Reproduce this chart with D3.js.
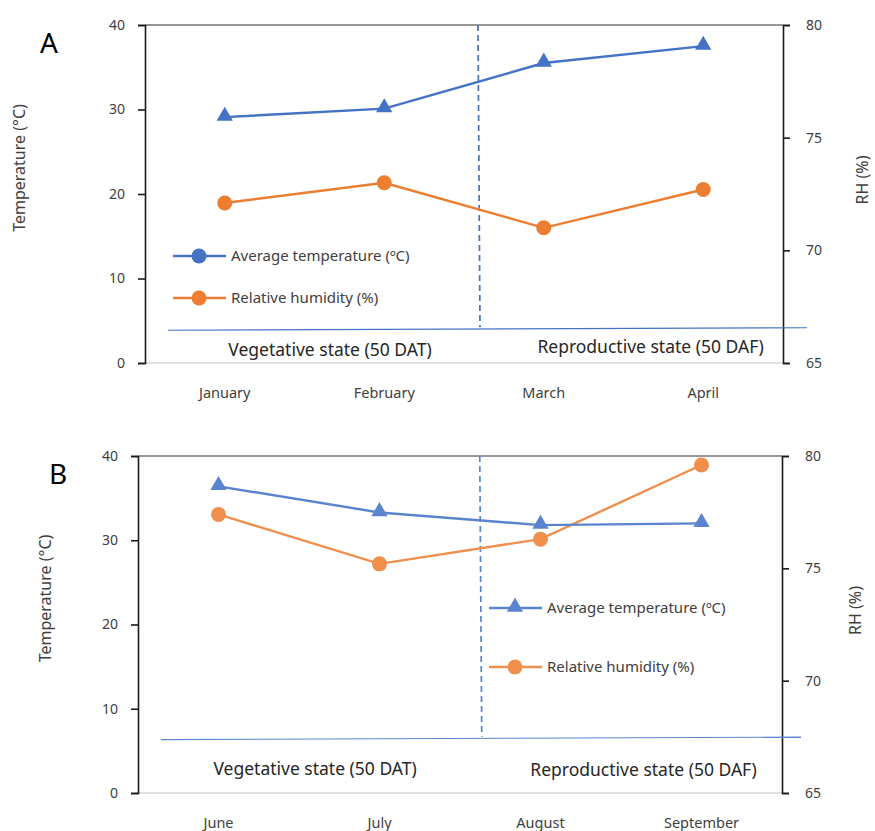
<!DOCTYPE html>
<html lang="en">
	<head>
		<meta charset="utf-8">
		<title>temperature and RH</title>
		<script type="text/javascript" src="https://cdn.jsdelivr.net/npm/d3@7"></script>
		<style>
			body{
				margin:0;
				background-color:white;
			}
			text{
				font-family:"Noto Sans", "DejaVu Sans", sans-serif;
			}
		</style>
	</head>
	<body>
		<div id="chart"></div>

		<script type="text/javascript">

			// panel A
			var monthsA = ["January","February","March","April"]
			var tempA = [29.1, 30.1, 35.5, 37.5]
			var rhA = [72.1, 73.0, 71.0, 72.7]

			// panel B
			var monthsB = ["June","July","August","September"]
			var tempB = [36.4, 33.3, 31.8, 32.0]
			var rhB = [77.4, 75.2, 76.3, 79.6]

			var tempTicks = [0,10,20,30,40]
			var rhTicks = [65,70,75,80]

			var w = 875
			var h = 831

			var svg = d3.select("#chart").append("svg")
			.attr("width",w)
			.attr("height",h)

			function drawPanel(o){
				var x = d3.scaleBand()
				.domain(o.months)
				.range([o.left,o.right])

				var yT = d3.scaleLinear()
				.domain([0,40])
				.range([o.bottom,o.top])

				var yR = d3.scaleLinear()
				.domain([65,80])
				.range([o.bottom,o.top])

				var g = svg.append("g")

				// frame: top grey, bottom light grey
				g.append("line")
				.attr("x1",o.left).attr("x2",o.right)
				.attr("y1",o.top).attr("y2",o.top)
				.attr("stroke","#767676").attr("stroke-width",1.3)

				g.append("line")
				.attr("x1",o.left).attr("x2",o.right)
				.attr("y1",o.bottom).attr("y2",o.bottom)
				.attr("stroke","#d6d6d6").attr("stroke-width",1.5)

				g.append("g")
				.attr("transform","translate("+o.left+",0)")
				.call(d3.axisLeft(yT).tickValues(tempTicks).tickSize(7).tickPadding(13))

				g.append("g")
				.attr("transform","translate("+o.right+",0)")
				.call(d3.axisRight(yR).tickValues(rhTicks).tickSize(7).tickPadding(16))

				g.selectAll(".domain").attr("stroke","#1a1a1a").attr("stroke-width",1.6)
				g.selectAll(".tick line").attr("stroke","#1a1a1a").attr("stroke-width",1.6)
				g.selectAll(".tick text")
				.attr("fill","#404040")
				.style("font-size","14px")
				.style("font-family","'Noto Sans', sans-serif")

				// months
				g.selectAll(".month")
				.data(o.months)
				.enter()
				.append("text")
				.attr("class","month")
				.attr("x",function(d){ return x(d)+x.bandwidth()/2 })
				.attr("y",o.bottom+35)
				.attr("text-anchor","middle")
				.attr("fill","#404040")
				.style("font-size","14.5px")
				.text(function(d){ return d })

				// stage divider lines
				var xd = o.left + x.bandwidth()*o.dashAt
				g.append("line")
				.attr("x1",xd-1).attr("x2",xd+1)
				.attr("y1",o.top).attr("y2",yT(o.stageLine)-2)
				.attr("stroke",o.blue).attr("stroke-width",1.7)
				.attr("stroke-dasharray","6,4")

				g.append("line")
				.attr("x1",o.left+23).attr("x2",o.right+o.lineExt)
				.attr("y1",yT(o.stageLine)+1).attr("y2",yT(o.stageLine)-1.5)
				.attr("stroke",o.blue).attr("stroke-width",1.1)

				g.append("text")
				.attr("x",o.left+x.bandwidth()*o.vegAt)
				.attr("y",yT(o.stageLine)+o.vegDy)
				.attr("text-anchor","middle")
				.attr("fill","#262626")
				.style("font-size","17.5px")
				.text("Vegetative state (50 DAT)")

				g.append("text")
				.attr("x",o.left+x.bandwidth()*o.repAt)
				.attr("y",yT(o.stageLine)+o.repDy)
				.attr("text-anchor","middle")
				.attr("fill","#262626")
				.style("font-size","17.5px")
				.text("Reproductive state (50 DAF)")

				// series
				var tLine = d3.line()
				.x(function(d,i){ return x(o.months[i])+x.bandwidth()/2 })
				.y(function(d){ return yT(d) })

				var rLine = d3.line()
				.x(function(d,i){ return x(o.months[i])+x.bandwidth()/2 })
				.y(function(d){ return yR(d) })

				g.append("path")
				.attr("d",rLine(o.rh))
				.attr("fill","none")
				.attr("stroke",o.orange)
				.attr("stroke-width",2.4)

				g.selectAll(".rh")
				.data(o.rh)
				.enter()
				.append("circle")
				.attr("cx",function(d,i){ return x(o.months[i])+x.bandwidth()/2 })
				.attr("cy",function(d){ return yR(d) })
				.attr("r",7.5)
				.attr("fill",o.orange)

				g.append("path")
				.attr("d",tLine(o.temp))
				.attr("fill","none")
				.attr("stroke",o.blue)
				.attr("stroke-width",2.4)

				var tri = d3.symbol().type(d3.symbolTriangle).size(115)
				g.selectAll(".tri")
				.data(o.temp)
				.enter()
				.append("path")
				.attr("d",tri)
				.attr("transform",function(d,i){
					return "translate("+(x(o.months[i])+x.bandwidth()/2)+","+(yT(d)-1)+")"
				})
				.attr("fill",o.blue)

				// legend
				var items = [
					{label:"Average temperature (ºC)", color:o.blue, shape:o.legendShape},
					{label:"Relative humidity (%)", color:o.orange, shape:"circle"}
				]
				items.forEach(function(it,i){
					var ly = o.legendY + i*o.legendGap
					g.append("line")
					.attr("x1",o.legendX).attr("x2",o.legendX+53)
					.attr("y1",ly).attr("y2",ly)
					.attr("stroke",it.color).attr("stroke-width",2.4)
					if(it.shape=="circle"){
						g.append("circle")
						.attr("cx",o.legendX+26).attr("cy",ly).attr("r",7.5)
						.attr("fill",it.color)
					}else{
						g.append("path")
						.attr("d",tri)
						.attr("transform","translate("+(o.legendX+26)+","+(ly-1)+")")
						.attr("fill",it.color)
					}
					g.append("text")
					.attr("x",o.legendX+58)
					.attr("y",ly+5)
					.attr("fill","#404040")
					.style("font-size","15px")
					.text(it.label)
				})

				// axis titles
				g.append("text")
				.attr("transform","translate("+o.titleLX+","+((o.top+o.bottom)/2-26)+") rotate(-90)")
				.attr("text-anchor","middle")
				.attr("fill","#404040")
				.style("font-size","16px")
				.text("Temperature (°C)")

				g.append("text")
				.attr("transform","translate("+o.titleRX+","+((o.top+o.bottom)/2-14)+") rotate(-90)")
				.attr("text-anchor","middle")
				.attr("fill","#404040")
				.style("font-size","16px")
				.text("RH (%)")

				g.append("text")
				.attr("x",o.labelX)
				.attr("y",o.top+28)
				.attr("fill","black")
				.style("font-size","28px")
				.text(o.name)
			}

			drawPanel({
				name:"A", months:monthsA, temp:tempA, rh:rhA,
				left:145, right:783, top:25, bottom:363,
				dashAt:2.094, stageLine:4.0, lineExt:24,
				vegAt:1.16, vegDy:27, repAt:3.17, repDy:24,
				blue:"#4472C4", orange:"#ED7D31", legendShape:"circle",
				legendX:173, legendY:256, legendGap:42,
				titleLX:25, titleRX:868, labelX:40
			})

			drawPanel({
				name:"B", months:monthsB, temp:tempB, rh:rhB,
				left:138, right:782, top:456, bottom:793,
				dashAt:2.129, stageLine:6.45, lineExt:19,
				vegAt:1.10, vegDy:36, repAt:3.14, repDy:37,
				blue:"#5A84CE", orange:"#F08F4C", legendShape:"triangle",
				legendX:489, legendY:608, legendGap:59,
				titleLX:51, titleRX:861, labelX:49
			})

		</script>
	</body>
</html>
